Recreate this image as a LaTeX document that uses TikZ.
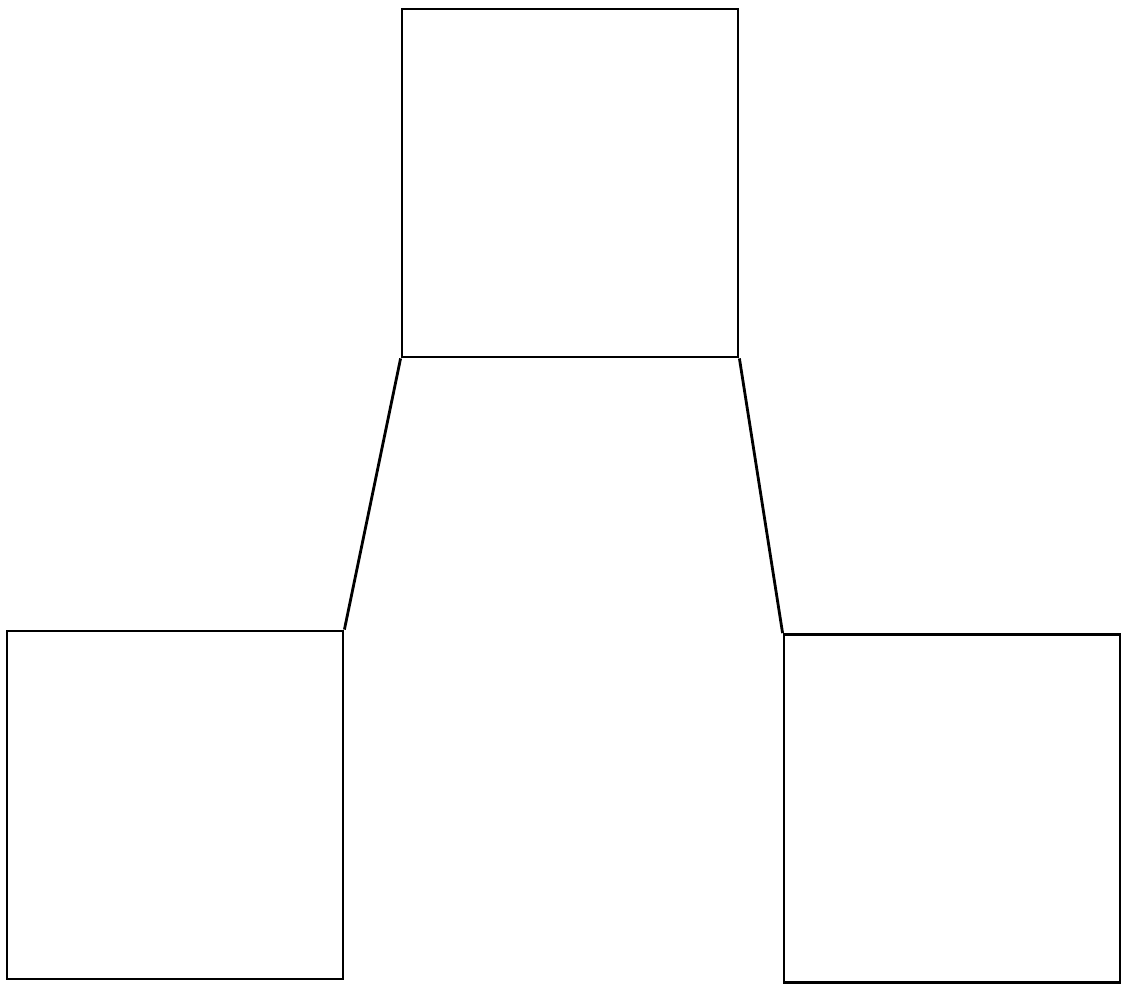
\documentclass[tikz,border=0pt]{standalone}
\usetikzlibrary{positioning}

\begin{document}
\begin{tikzpicture}
        \def\w{3.36}
        \def\h{3.48}
        \tikzset{box/.style={draw, line width=0.8pt, rectangle, inner sep=0pt,
            minimum width=\w cm, minimum height=\h cm}}
        \useasboundingbox (0,0) rectangle (11.31,9.89);
        %Draw boxes
        \node[box] (top) at (5.70,8.06) {};
        \node[box] (left) at (1.75,1.84) {};
        \node[box] (right) at (9.52,1.805) {};
        %Draw links
        \draw[line width=0.8pt] (top.south west) -- (left.north east);
        \draw[line width=0.8pt] (top.south east) -- (right.north west);
      \end{tikzpicture}
\end{document}
